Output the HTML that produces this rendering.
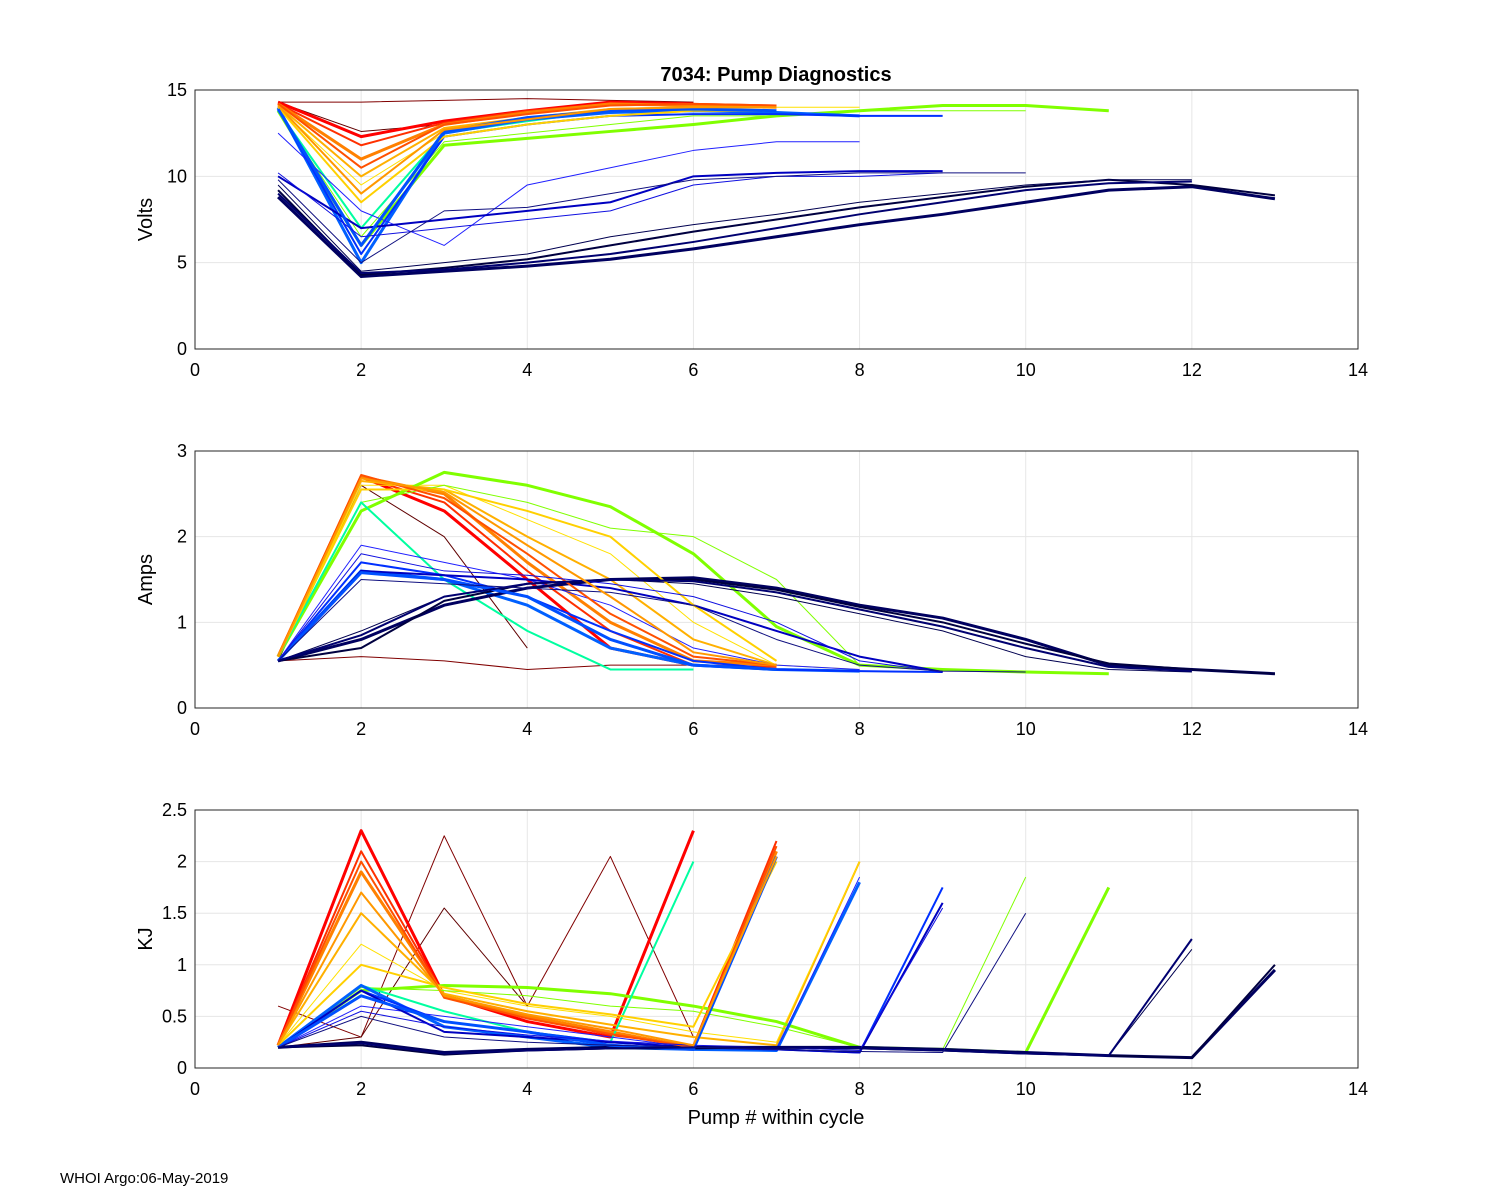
<!DOCTYPE html>
<html><head><meta charset="utf-8"><style>
body{margin:0;background:#fff;}
svg{display:block;font-family:"Liberation Sans",Arial,sans-serif;}
</style></head><body>
<svg id="fig" width="1500" height="1200">
<rect width="1500" height="1200" fill="#fff"/>
<text x="776" y="81" text-anchor="middle" font-size="20" font-weight="bold">7034: Pump Diagnostics</text>
<text x="776" y="1124" text-anchor="middle" font-size="20">Pump # within cycle</text>
<text x="60" y="1183" font-size="15">WHOI Argo:06-May-2019</text>
</svg>
<script>
const xTicks=[0,2,4,6,8,10,12,14];
const voltTicks=[0,5,10,15];
const ampTicks=[0,1,2,3];
const kjTicks=[0,0.5,1,1.5,2,2.5];
const profileColors=["#800000","#600000","#ff0000","#ff3000","#ff8000","#ffb000","#ffe000","#80ff00","#80ff00","#00ffa0","#0060ff","#0030ff","#2020ff","#0000c0","#000060","#000040","#000050","#ffd000","#ff5000","#0050ff","#1010e0","#000070","#101080","#ff9800"];
const profileWidths=[1,1,3,2,3,2,1,3,1,2,3,2,1,2,3,2,1,2,2,3,1,2,1,2];
const volts=[
[14.3,14.3,14.4,14.5,14.4,14.3],
[14.3,12.6,13.0,13.6],
[14.3,12.3,13.2,13.8,14.3,14.2],
[14.2,11.8,13.1,13.8,14.2,14.2,14.1],
[14.2,11.0,13.0,13.7,14.2,14.1,14.0],
[14.1,10.0,12.8,13.4,13.9,14.0,14.0],
[14.0,9.5,12.5,13.2,13.8,14.0,14.0,14.0],
[13.8,6.0,11.8,12.2,12.6,13.0,13.5,13.8,14.1,14.1,13.8],
[13.8,6.5,12.0,12.5,13.0,13.5,13.5,13.8,13.8,13.8],
[13.8,7.0,12.5,13.2,13.8,13.8],
[14.0,5.0,12.5,13.3,13.7,13.8,13.7,13.5],
[13.9,5.5,12.3,13.0,13.5,13.6,13.6,13.5,13.5],
[12.5,8.0,6.0,9.5,10.5,11.5,12.0,12.0],
[10.0,7.0,7.5,8.0,8.5,10.0,10.2,10.3,10.3],
[8.8,4.2,4.5,4.8,5.2,5.8,6.5,7.2,7.8,8.5,9.2,9.4,8.7],
[9.2,4.3,4.7,5.2,6.0,6.8,7.5,8.2,8.8,9.4,9.8,9.5,8.9],
[9.5,4.5,5.0,5.5,6.5,7.2,7.8,8.5,9.0,9.5,9.8,9.8],
[14.0,8.5,12.3,13.0,13.5,13.8,13.8],
[14.2,10.5,13.0,13.6,14.1,14.2,14.1],
[13.9,6.0,12.6,13.4,13.8,13.9,13.8],
[10.2,6.5,7.0,7.5,8.0,9.5,10.0,10.0,10.2],
[9.0,4.4,4.6,5.0,5.5,6.2,7.0,7.8,8.5,9.2,9.6,9.7],
[9.8,5.0,8.0,8.2,9.0,9.8,10.0,10.2,10.2,10.2],
[14.1,9.0,12.7,13.3,13.9,14.0,14.0]
];
const amps=[
[0.55,0.6,0.55,0.45,0.5,0.5],
[0.55,2.6,2.0,0.7],
[0.6,2.7,2.3,1.5,0.7,0.5],
[0.6,2.7,2.4,1.6,0.9,0.5,0.48],
[0.6,2.7,2.5,1.7,1.0,0.55,0.5],
[0.6,2.65,2.55,2.0,1.5,0.8,0.5],
[0.6,2.6,2.6,2.2,1.8,1.0,0.5,0.45],
[0.6,2.3,2.75,2.6,2.35,1.8,0.95,0.5,0.45,0.42,0.4],
[0.6,2.4,2.6,2.4,2.1,2.0,1.5,0.5,0.45,0.42],
[0.6,2.4,1.5,0.9,0.45,0.45],
[0.55,1.6,1.5,1.2,0.7,0.5,0.45,0.43],
[0.55,1.7,1.55,1.3,0.9,0.55,0.45,0.43,0.42],
[0.55,1.9,1.7,1.5,1.2,0.7,0.5,0.45],
[0.55,1.6,1.55,1.5,1.4,1.2,0.9,0.6,0.42],
[0.55,0.8,1.2,1.4,1.5,1.52,1.4,1.2,1.05,0.8,0.5,0.45,0.4],
[0.55,0.7,1.25,1.45,1.5,1.5,1.38,1.18,1.0,0.75,0.52,0.45,0.4],
[0.55,0.9,1.3,1.45,1.5,1.45,1.3,1.1,0.9,0.6,0.45,0.42],
[0.6,2.55,2.55,2.3,2.0,1.2,0.55],
[0.6,2.72,2.45,1.8,1.1,0.6,0.5],
[0.55,1.58,1.5,1.3,0.8,0.5,0.45],
[0.55,1.8,1.6,1.55,1.45,1.3,1.0,0.55,0.42],
[0.55,0.85,1.3,1.45,1.5,1.48,1.35,1.15,0.95,0.7,0.48,0.43],
[0.55,1.5,1.45,1.4,1.35,1.2,0.8,0.5,0.43,0.42],
[0.6,2.68,2.52,1.9,1.3,0.65,0.5]
];
const kj=[
[0.6,0.3,2.25,0.6,2.05,0.3],
[0.2,0.3,1.55,0.6],
[0.22,2.3,0.7,0.45,0.3,2.3],
[0.22,2.1,0.7,0.5,0.32,0.22,2.2],
[0.22,1.9,0.7,0.5,0.35,0.2,2.1],
[0.22,1.5,0.72,0.55,0.42,0.3,0.22,2.0],
[0.22,1.2,0.75,0.6,0.5,0.35,0.25,2.0],
[0.2,0.75,0.8,0.78,0.72,0.6,0.45,0.2,0.18,0.15,1.75],
[0.2,0.78,0.75,0.7,0.6,0.55,0.4,0.2,0.18,1.85],
[0.2,0.8,0.55,0.35,0.25,2.0],
[0.2,0.8,0.4,0.3,0.2,0.18,0.17,1.8],
[0.2,0.75,0.45,0.35,0.25,0.2,0.18,0.15,1.75],
[0.2,0.6,0.5,0.4,0.3,0.2,0.18,1.85],
[0.2,0.75,0.35,0.3,0.25,0.2,0.18,0.15,1.6],
[0.2,0.25,0.15,0.18,0.2,0.2,0.2,0.2,0.18,0.15,0.12,0.1,0.95],
[0.2,0.22,0.13,0.17,0.19,0.19,0.2,0.19,0.17,0.14,0.12,0.1,1.0],
[0.2,0.25,0.15,0.18,0.2,0.2,0.2,0.2,0.18,0.15,0.12,1.15],
[0.22,1.0,0.78,0.62,0.52,0.4,2.0],
[0.22,2.0,0.68,0.48,0.33,0.2,2.15],
[0.2,0.7,0.45,0.35,0.22,0.18,2.05],
[0.2,0.55,0.4,0.32,0.26,0.22,0.2,0.17,1.55],
[0.2,0.24,0.14,0.17,0.19,0.2,0.2,0.19,0.17,0.14,0.12,1.25],
[0.2,0.5,0.3,0.25,0.22,0.2,0.18,0.16,0.15,1.5],
[0.22,1.7,0.7,0.52,0.38,0.22,2.05]
];
const NS="http://www.w3.org/2000/svg";
const svg=document.getElementById("fig");
const X0=195,X1=1358;
const panels=[
 {name:"volts",top:90,bot:349,max:15,ticks:voltTicks,label:"Volts",data:volts},
 {name:"amps",top:451,bot:708,max:3,ticks:ampTicks,label:"Amps",data:amps},
 {name:"kj",top:810,bot:1068,max:2.5,ticks:kjTicks,label:"KJ",data:kj}
];
function el(tag,attrs,parent){const e=document.createElementNS(NS,tag);for(const k in attrs)e.setAttribute(k,attrs[k]);(parent||svg).appendChild(e);return e;}
const xs=v=>X0+(X1-X0)*v/14;
panels.forEach(p=>{
 const ys=v=>p.bot-(p.bot-p.top)*v/p.max;
 const g=el("g",{});
 
 
 el("rect",{x:X0,y:p.top,width:X1-X0,height:p.bot-p.top,fill:"#fff"},g);
 xTicks.forEach(t=>{
  el("line",{x1:xs(t),x2:xs(t),y1:p.top,y2:p.bot,stroke:"#e6e6e6","stroke-width":1},g);
  const tx=el("text",{x:xs(t),y:p.bot+27,"text-anchor":"middle","font-size":18},g);
  tx.textContent=t;
  
  
 });
 p.ticks.forEach(t=>{
  el("line",{x1:X0,x2:X1,y1:ys(t),y2:ys(t),stroke:"#e6e6e6","stroke-width":1},g);
  const ty=el("text",{x:X0-8,y:ys(t)+6,"text-anchor":"end","font-size":18},g);
  ty.textContent=t;
  
  
 });
 p.data.forEach((arr,i)=>{
  const pts=arr.map((v,j)=>xs(j+1)+","+ys(v)).join(" ");
  const pl=el("polyline",{points:pts,fill:"none",stroke:profileColors[i],"stroke-width":profileWidths[i],"stroke-linejoin":"round"},g);
  
  
 });
 const fr=el("rect",{x:X0,y:p.top,width:X1-X0,height:p.bot-p.top,fill:"none",stroke:"#262626","stroke-width":1},g);
 
 
 const cy=(p.top+p.bot)/2;
 const yl=el("text",{x:152,y:cy,"text-anchor":"middle","font-size":20,transform:"rotate(-90 152 "+cy+")"},g);
 yl.textContent=p.label;
 
 
});
</script>
</body></html>
